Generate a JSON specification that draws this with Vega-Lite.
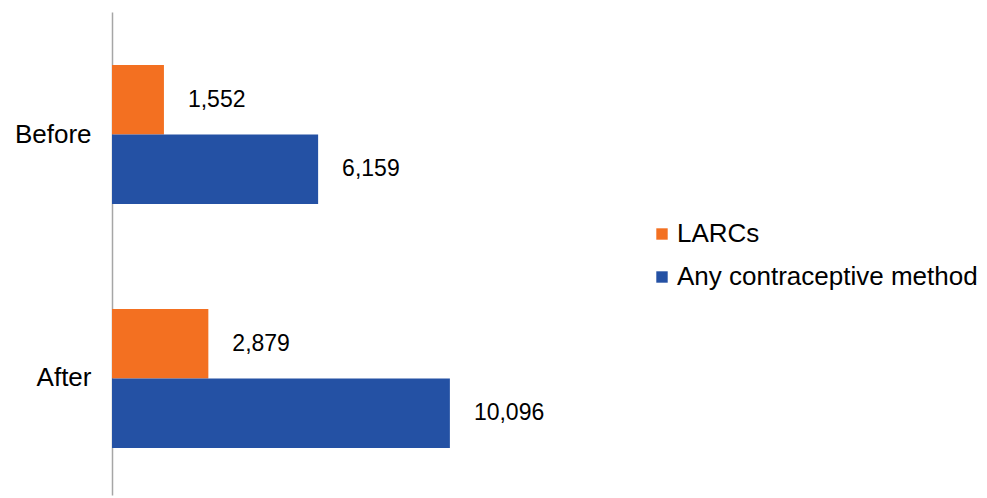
{
  "$schema": "https://vega.github.io/schema/vega-lite/v6.json",
  "width": 502,
  "height": 483,
  "autosize": "none",
  "padding": {"left": 112, "top": 12, "right": 373, "bottom": 3},
  "background": "white",
  "config": {"font": "Liberation Sans", "view": {"stroke": null}},
  "data": {"values": [
    {"period": "Before", "series": "LARCs", "value": 1552},
    {"period": "Before", "series": "Any contraceptive method", "value": 6159},
    {"period": "After", "series": "LARCs", "value": 2879},
    {"period": "After", "series": "Any contraceptive method", "value": 10096}
  ]},
  "encoding": {
    "y": {"field": "period", "type": "nominal", "sort": ["Before", "After"],
      "scale": {"paddingInner": 0.43, "paddingOuter": 0.205, "align": 0.53},
      "axis": {"title": null, "ticks": false, "labelFontSize": 26, "labelColor": "black", "labelPadding": 21, "domainColor": "#a6a6a6", "domainWidth": 1.5}},
    "yOffset": {"field": "series", "type": "nominal", "sort": ["LARCs", "Any contraceptive method"]},
    "x": {"field": "value", "type": "quantitative", "scale": {"domain": [0, 15000]}, "axis": null}
  },
  "layer": [
    {"mark": {"type": "bar"},
     "encoding": {"color": {"field": "series", "type": "nominal", "sort": ["LARCs", "Any contraceptive method"],
       "scale": {"domain": ["LARCs", "Any contraceptive method"], "range": ["#F37021", "#2451A4"]},
       "legend": {"title": null, "orient": "none", "legendX": 537, "legendY": 209, "symbolType": "square", "symbolSize": 130, "symbolStrokeWidth": 0, "labelFontSize": 26, "labelColor": "black", "labelLimit": 400, "rowPadding": 17, "labelOffset": 2}}}},
    {"mark": {"type": "text", "align": "left", "dx": 24, "fontSize": 23, "color": "black"},
     "encoding": {"text": {"field": "value", "type": "quantitative", "format": ",d"}}}
  ]
}
